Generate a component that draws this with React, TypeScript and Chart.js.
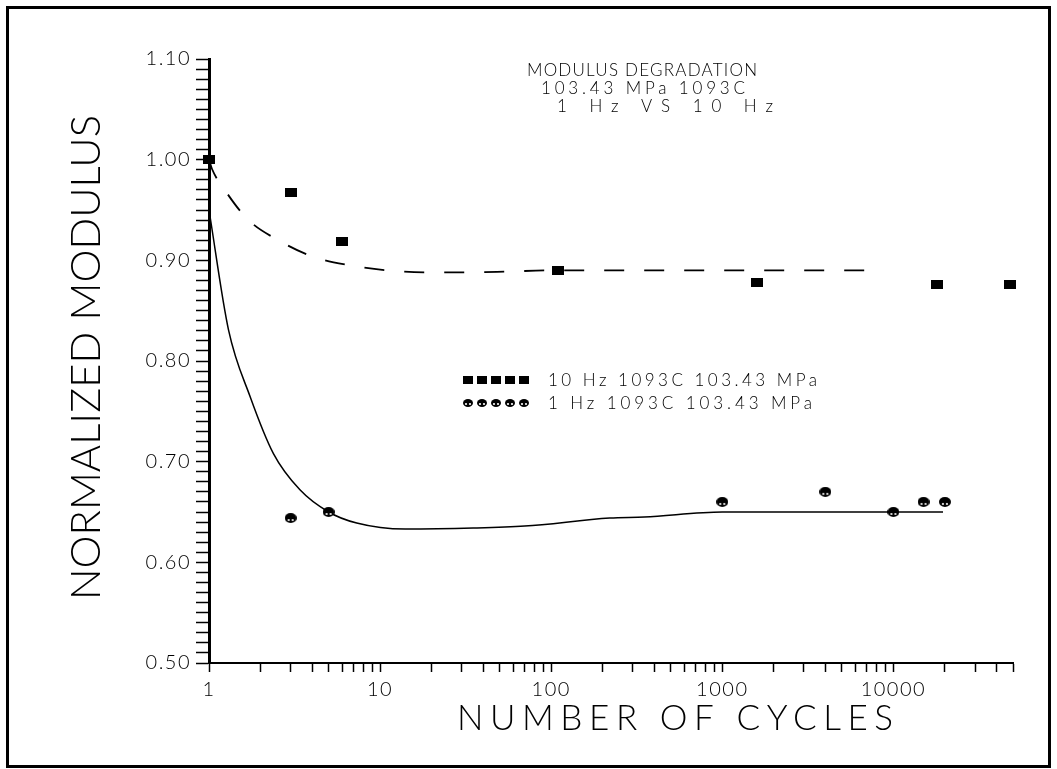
import React, { useEffect, useRef } from 'react';
import { Chart, registerables } from 'chart.js';

Chart.register(...registerables);

// ---- data ----
const hz10Cycles = [1, 3, 6, 110, 1600, 18000, 48000];
const hz10Modulus = [1.0, 0.967, 0.919, 0.89, 0.878, 0.876, 0.876];
const hz1Cycles = [3, 5, 1000, 4000, 10000, 15000, 20000];
const hz1Modulus = [0.644, 0.65, 0.66, 0.67, 0.65, 0.66, 0.66];
const fit10Cycles = [1, 1.04, 1.27, 1.7, 2.54, 4, 6.7, 11, 20, 33, 58, 100, 8500];
const fit10Modulus = [1.0, 0.991, 0.967, 0.94, 0.92, 0.904, 0.895, 0.89, 0.888, 0.888, 0.889, 0.89, 0.89];
const fit1Cycles = [1, 1.3, 1.74, 2.38, 3.4, 5, 7.3, 14, 35, 70, 220, 350, 1000, 19500];
const fit1Modulus = [0.95, 0.831, 0.7645, 0.708, 0.672, 0.65, 0.639, 0.633, 0.634, 0.636, 0.644, 0.645, 0.65, 0.65];

const xTickLabels = ['1', '10', '100', '1000', '10000'];
const yTickLabels = ['0.50', '0.60', '0.70', '0.80', '0.90', '1.00', '1.10'];
const titleLines = ['MODULUS DEGRADATION', '103.43 MPa 1093C', '1 Hz VS 10 Hz'];
const legendLabels = ['10 Hz 1093C 103.43 MPa', '1 Hz 1093C 103.43 MPa'];
const xTitle = 'NUMBER OF CYCLES';
const yTitle = 'NORMALIZED MODULUS';

const X_MIN = 1;
const X_MAX = 50000;
const Y_MIN = 0.5;
const Y_MAX = 1.1;

const FONT = 'Lato';

function makeSquare(w: number, h: number): HTMLCanvasElement {
  const c = document.createElement('canvas');
  c.width = w;
  c.height = h;
  const g = c.getContext('2d')!;
  g.fillStyle = '#000';
  g.fillRect(0, 0, w, h);
  return c;
}

function makeBean(w: number, h: number): HTMLCanvasElement {
  const c = document.createElement('canvas');
  c.width = w;
  c.height = h;
  const g = c.getContext('2d')!;
  g.fillStyle = '#000';
  g.beginPath();
  g.ellipse(w / 2, h / 2, w / 2, h / 2, 0, 0, Math.PI * 2);
  g.fill();
  g.fillStyle = '#fff';
  g.beginPath();
  g.arc(w / 2 - 2, h - 3, 1.1, 0, Math.PI * 2);
  g.fill();
  g.beginPath();
  g.arc(w / 2 + 2, h - 3, 1.1, 0, Math.PI * 2);
  g.fill();
  return c;
}

// draw text so that it spans exactly from x0 to x1 (baseline given)
function drawFit(
  ctx: CanvasRenderingContext2D,
  text: string,
  x0: number,
  x1: number,
  baseline: number,
  size: number
) {
  ctx.save();
  ctx.font = `300 ${size}px ${FONT}`;
  ctx.textAlign = 'left';
  ctx.textBaseline = 'alphabetic';
  ctx.fillStyle = '#000';
  (ctx as any).letterSpacing = '0px';
  const w = ctx.measureText(text).width;
  const target = x1 - x0;
  const n = text.length;
  let sp = n > 1 ? (target - w) / (n - 1) : 0;
  ctx.translate(x0, baseline);
  if (sp < 0) {
    ctx.scale(target / w, 1);
    sp = 0;
  }
  (ctx as any).letterSpacing = `${sp}px`;
  ctx.fillText(text, 0, 0);
  ctx.restore();
}

export default function App() {
  const ref = useRef<HTMLCanvasElement | null>(null);

  useEffect(() => {
    const canvas = ref.current;
    if (!canvas) return;
    const square = makeSquare(12, 9);
    const bean = makeBean(12, 10);
    const legSquare = makeSquare(10, 8);
    const legBean = makeBean(10, 8);

    const xTickValues: number[] = [];
    for (let d = 1; d <= 10000; d *= 10) {
      for (let m = 1; m <= 9; m++) {
        if (d * m <= X_MAX) xTickValues.push(d * m);
      }
    }
    const yTickValues: number[] = [];
    for (let k = Math.round(Y_MIN * 100); k <= Math.round(Y_MAX * 100); k++) yTickValues.push(k / 100);

    const spacingPlugin = {
      id: 'spacing',
      beforeDraw(chart: any) {
        (chart.ctx as any).letterSpacing = '1.5px';
      },
    };

    const decorPlugin = {
      id: 'decor',
      afterDraw(chart: any) {
        const ctx: CanvasRenderingContext2D = chart.ctx;
        ctx.save();
        (ctx as any).letterSpacing = '0px';
        // frame
        ctx.strokeStyle = '#000';
        ctx.lineWidth = 3;
        ctx.strokeRect(7.5, 7.5, 1042, 759);
        // title block
        drawFit(ctx, titleLines[0], 527, 757, 76, 17);
        drawFit(ctx, titleLines[1], 541, 745, 94, 17);
        drawFit(ctx, titleLines[2], 557, 773, 112, 17);
        // legend
        const markers = [legSquare, legBean];
        const rowsY = [380, 403];
        const ends = [817, 812];
        for (let r = 0; r < 2; r++) {
          for (let k = 0; k < 5; k++) {
            const m = markers[r];
            const cx = 468 + k * 14;
            ctx.drawImage(m, Math.round(cx - m.width / 2), Math.round(rowsY[r] - m.height / 2));
          }
          drawFit(ctx, legendLabels[r], 548, ends[r], rowsY[r] + 6, 17);
        }
        // x title
        drawFit(ctx, xTitle, 457, 893, 730, 35);
        // y title
        ctx.save();
        ctx.translate(100, 600);
        ctx.rotate(-Math.PI / 2);
        drawFit(ctx, yTitle, 0, 485, 0, 42);
        ctx.restore();
        ctx.restore();
      },
    };

    const tickFont = { family: FONT, size: 20, weight: '300' as any };

    const chart = new Chart(canvas, {
      type: 'scatter',
      data: {
        datasets: [
          {
            label: legendLabels[0],
            data: hz10Cycles.map((x, i) => ({ x, y: hz10Modulus[i] })),
            pointStyle: square as any,
            pointRadius: 6,
            showLine: false,
            clip: false as any,
            order: 0,
          },
          {
            label: legendLabels[1],
            data: hz1Cycles.map((x, i) => ({ x, y: hz1Modulus[i] })),
            pointStyle: bean as any,
            pointRadius: 6,
            showLine: false,
            clip: false as any,
            order: 0,
          },
          {
            label: 'fit 10 Hz',
            data: fit10Cycles.map((x, i) => ({ x, y: fit10Modulus[i] })),
            showLine: true,
            borderColor: '#000',
            borderWidth: 1.8,
            borderDash: [20, 20],
            pointRadius: 0,
            cubicInterpolationMode: 'monotone',
            clip: false as any,
            order: 1,
          },
          {
            label: 'fit 1 Hz',
            data: fit1Cycles.map((x, i) => ({ x, y: fit1Modulus[i] })),
            showLine: true,
            borderColor: '#000',
            borderWidth: 1.5,
            pointRadius: 0,
            cubicInterpolationMode: 'monotone',
            clip: false as any,
            order: 1,
          },
        ],
      },
      options: {
        responsive: false,
        animation: false,
        devicePixelRatio: 1,
        layout: { padding: { top: 59, right: 44, left: 0, bottom: 0 } },
        plugins: {
          legend: { display: false },
          tooltip: { enabled: false },
          title: { display: false },
        },
        scales: {
          x: {
            type: 'logarithmic',
            min: X_MIN,
            max: X_MAX,
            afterBuildTicks: (s: any) => {
              s.ticks = xTickValues.map((v) => ({ value: v }));
            },
            afterFit: (s: any) => {
              s.height = 106;
            },
            grid: {
              drawOnChartArea: false,
              drawTicks: true,
              tickLength: 9,
              tickColor: '#000',
              tickWidth: 1.5,
            },
            border: { display: true, color: '#000', width: 2 },
            ticks: {
              autoSkip: false,
              maxRotation: 0,
              minRotation: 0,
              padding: 6,
              color: '#000',
              font: tickFont,
              callback: (v: any) => {
                const s = String(Math.round(Number(v)));
                return xTickLabels.includes(s) ? s : '';
              },
            },
          },
          y: {
            type: 'linear',
            min: Y_MIN,
            max: Y_MAX,
            afterBuildTicks: (s: any) => {
              s.ticks = yTickValues.map((v) => ({ value: v }));
            },
            afterFit: (s: any) => {
              s.width = 209;
            },
            grid: {
              drawOnChartArea: false,
              drawTicks: true,
              tickLength: 13,
              tickColor: '#000',
              tickWidth: 1.5,
            },
            border: { display: true, color: '#000', width: 3 },
            ticks: {
              autoSkip: false,
              padding: 5,
              color: '#000',
              font: tickFont,
              callback: (v: any) => {
                const s = Number(v).toFixed(2);
                return yTickLabels.includes(s) ? s : '';
              },
            },
          },
        },
      },
      plugins: [spacingPlugin, decorPlugin],
    } as any);

    return () => {
      chart.destroy();
    };
  }, []);

  return (
    <div style={{ position: 'fixed', left: 0, top: 0, width: 1057, height: 769, background: '#fff' }}>
      <canvas ref={ref} width={1057} height={769} style={{ display: 'block' }} />
    </div>
  );
}
